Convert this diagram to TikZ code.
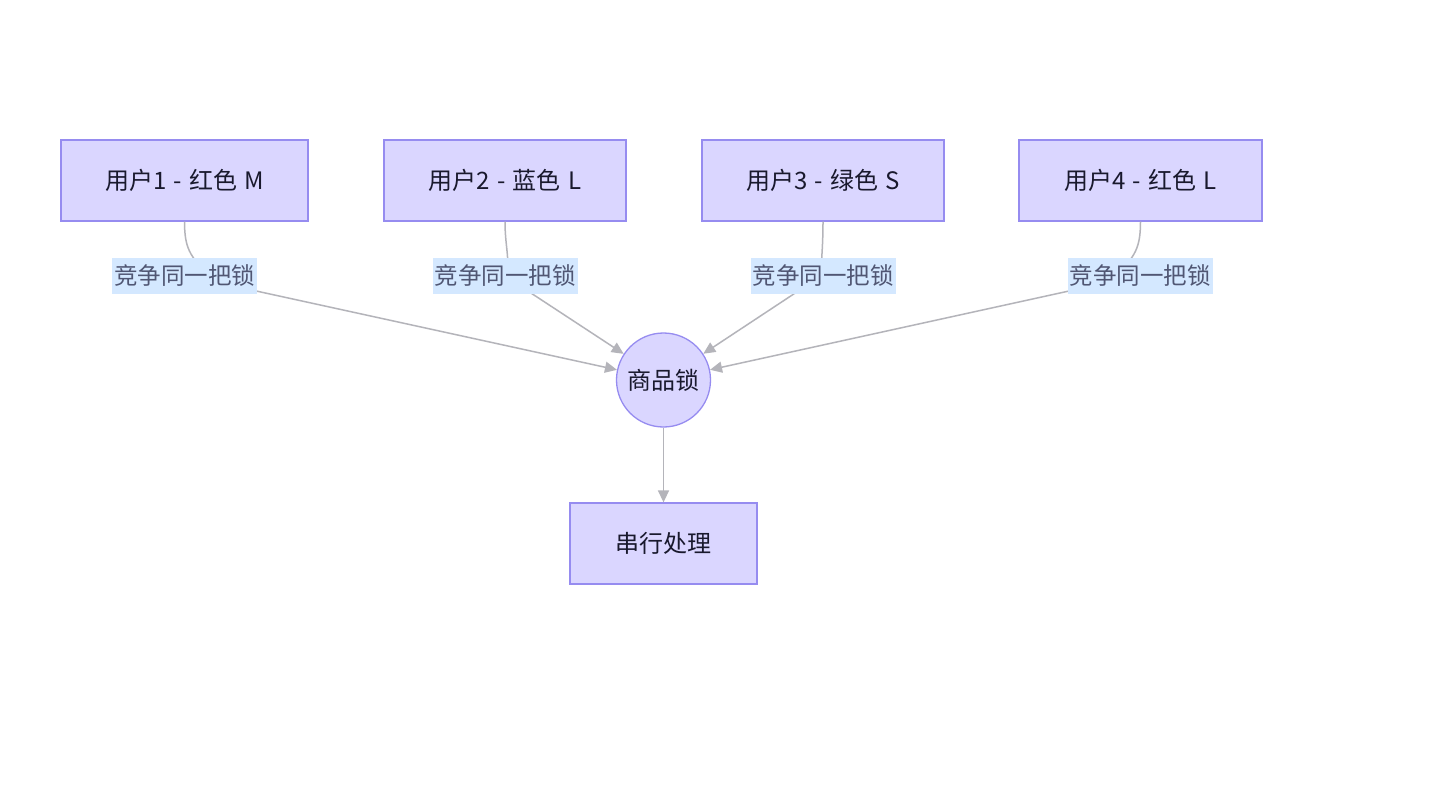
\documentclass[tikz,border=0pt]{standalone}
\usepackage{fontspec}
\setmainfont{Noto Sans CJK SC}
\usetikzlibrary{arrows.meta}
\definecolor{boxfill}{RGB}{218,214,255}
\definecolor{boxline}{RGB}{150,140,240}
\definecolor{labelbg}{RGB}{212,232,255}
\definecolor{edgecol}{RGB}{180,180,186}
\definecolor{boxtext}{RGB}{25,25,45}
\definecolor{labeltext}{RGB}{80,86,115}
\newcommand{\wsp}{\hspace{0.3em}}
\tikzset{
  userbox/.style={draw=boxline, fill=boxfill, line width=1.3pt, minimum height=81pt, inner sep=0pt, text=boxtext, font=\fontsize{24}{28}\selectfont},
  lockcircle/.style={draw=boxline, fill=boxfill, line width=1.3pt, circle, minimum size=94pt, inner sep=0pt, text=boxtext, font=\fontsize{24}{28}\selectfont},
  edgelabel/.style={fill=labelbg, minimum width=145pt, minimum height=36pt, inner sep=0pt, text=labeltext, font=\fontsize{23.5}{27}\selectfont},
  edge/.style={draw=edgecol, line width=1.5pt},
  arrowedge/.style={edge, -{Triangle[length=12pt,width=11pt]}},
}
\begin{document}
\begin{tikzpicture}[x=1pt,y=-1pt]
\useasboundingbox[fill=white] (0,0) rectangle (1447,806);
% nodes
\node[userbox, minimum width=247pt] (u1) at (184.5,180.5) {用户1\wsp{}-\wsp{}红色\wsp{}M};
\node[userbox, minimum width=242pt] (u2) at (505,180.5) {用户2\wsp{}-\wsp{}蓝色\wsp{}L};
\node[userbox, minimum width=242pt] (u3) at (823,180.5) {用户3\wsp{}-\wsp{}绿色\wsp{}S};
\node[userbox, minimum width=243pt] (u4) at (1140.5,180.5) {用户4\wsp{}-\wsp{}红色\wsp{}L};
\node[lockcircle] (lock) at (663.5,380) {商品锁};
\node[userbox, minimum width=187pt] (proc) at (663.5,543.5) {串行处理};
% helper coordinates
\coordinate (a1) at (184.5,252); \coordinate (b1) at (192,258); \coordinate (j1) at (215,282);
\coordinate (a2) at (505,248); \coordinate (b2) at (511,262); \coordinate (j2) at (505,276);
\coordinate (a3) at (823,248); \coordinate (b3) at (821,262); \coordinate (j3) at (821,276);
\coordinate (a4) at (1140.5,252); \coordinate (b4) at (1133,258); \coordinate (j4) at (1110,282);
% edges
\draw[arrowedge] (u1.south) .. controls (a1) and (b1) .. (j1) -- (lock);
\draw[arrowedge] (u2.south) .. controls (a2) and (b2) .. (j2) -- (lock);
\draw[arrowedge] (u3.south) .. controls (a3) and (b3) .. (j3) -- (lock);
\draw[arrowedge] (u4.south) .. controls (a4) and (b4) .. (j4) -- (lock);
\draw[arrowedge] (lock) -- (proc);
% labels
\node[edgelabel] (l1) at (184.5,276) {竞争同一把锁};
\node[edgelabel] (l2) at (505,276) {竞争同一把锁};
\node[edgelabel] (l3) at (823,276) {竞争同一把锁};
\node[edgelabel] (l4) at (1140,276) {竞争同一把锁};
\end{tikzpicture}
\end{document}
